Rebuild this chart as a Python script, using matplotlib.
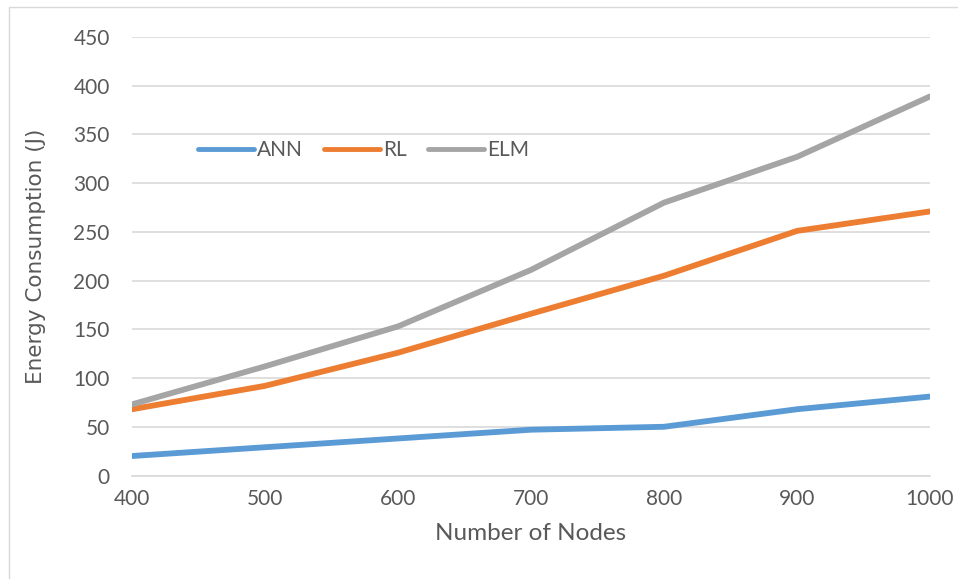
import matplotlib
matplotlib.use("Agg")
import matplotlib.pyplot as plt
from matplotlib.patches import Rectangle

# Energy consumption per routing approach
nodes = [400, 500, 600, 700, 800, 900, 1000]
ann = [20, 29, 38, 47, 50, 68, 81]
rl = [68, 92, 126, 166, 205, 251, 271]
elm = [73, 112, 153, 211, 280, 327, 389]

series = [("ANN", ann, "#5B9BD5"), ("RL", rl, "#ED7D31"), ("ELM", elm, "#A5A5A5")]
y_ticks = [0, 50, 100, 150, 200, 250, 300, 350, 400, 450]

TEXT = "#595959"
GRID = "#D9D9D9"

plt.rcParams["font.family"] = ["Lato", "DejaVu Sans"]

fig = plt.figure(figsize=(9.58, 5.79), dpi=100)
ax = fig.add_axes([132 / 958, 1 - 475.5 / 579, 798 / 958, 438.5 / 579])

# chart-area outline
fig.patches.append(Rectangle((9 / 958, -0.05), 1.2, 1 - 7 / 579 + 0.05,
                             transform=fig.transFigure, fill=False,
                             edgecolor=GRID, linewidth=1))

for name, vals, colour in series:
    ax.plot(nodes, vals, color=colour, linewidth=4.2, label=name,
            solid_capstyle="round", solid_joinstyle="round", zorder=3)

ax.set_xlim(400, 1000)
ax.set_ylim(0, 450)
ax.set_xticks(nodes)
ax.set_yticks(y_ticks)
ax.grid(axis="y", color=GRID, linewidth=1.2, zorder=0)
for s in ["top", "right", "left"]:
    ax.spines[s].set_visible(False)
ax.spines["bottom"].set_color(GRID)
ax.spines["bottom"].set_linewidth(1.2)
ax.tick_params(axis="both", length=0, labelsize=15, labelcolor=TEXT)
ax.tick_params(axis="y", pad=16)
ax.tick_params(axis="x", pad=10)

ax.set_xlabel("Number of Nodes", fontsize=17.5, color=TEXT, labelpad=10)
ax.set_ylabel("Energy Consumption (J)", fontsize=15.5, color=TEXT, labelpad=20,
              family="DejaVu Sans")

leg = ax.legend(loc="center left", bbox_to_anchor=((198 - 132) / 798, (475.5 - 150) / 438.5),
                ncol=3, frameon=False, fontsize=15, borderaxespad=0, borderpad=0,
                handlelength=2.7, handletextpad=0.15, columnspacing=1.0)
for t in leg.get_texts():
    t.set_color(TEXT)
for h in leg.get_lines():
    h.set_linewidth(3.5)

fig.savefig("out.png", dpi=100)
